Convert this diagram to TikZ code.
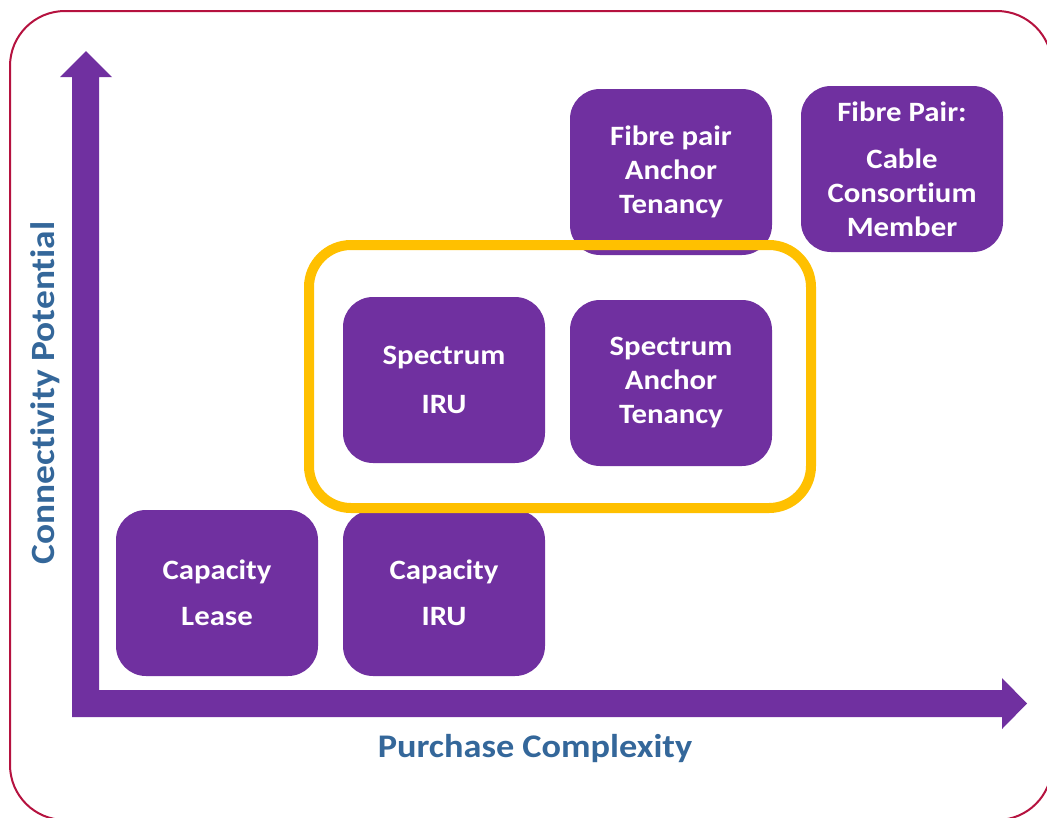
\documentclass[tikz,border=0pt]{standalone}
\usepackage{fontspec}
\setmainfont{Carlito}
\newfontfamily\widefont[FakeStretch=1.1, Ligatures=NoCommon]{Carlito}
\definecolor{boxpurple}{HTML}{7030A0}
\definecolor{ringyellow}{HTML}{FFC000}
\definecolor{labelblue}{HTML}{34679A}
\definecolor{framered}{HTML}{B5123F}
\tikzset{
  optionbox/.style={fill=boxpurple, rounded corners=30, minimum width=202,
    minimum height=166, inner sep=0, text=white, align=center,
    font=\widefont\bfseries\fontsize{28}{34}\selectfont},
  axislabel/.style={text=labelblue, inner sep=0,
    font=\widefont\bfseries\fontsize{33}{38}\selectfont},
  axisfill/.style={fill=boxpurple},
  ring/.style={draw=ringyellow, line width=10, rounded corners=42},
  outerframe/.style={draw=framered, line width=2, rounded corners=55}
}
\begin{document}
\begin{tikzpicture}[x=1pt,y=-1pt]
  \useasboundingbox (0,0) rectangle (1047,817);
  \clip (0,0) rectangle (1047,817);

  % outer rounded frame
  \draw[outerframe] (10,11) rectangle (1052,820);

  % L-shaped axes with arrow heads
  \coordinate (origin) at (72,717);
  \coordinate (ytip) at (86,51);
  \coordinate (xtip) at (1027,703.5);
  \fill[axisfill] (origin) -- (72,77) -- (60,77) -- (ytip) -- (112,77)
    -- (99,77) -- (99,690) -- (1002,690) -- (1002,678) -- (xtip)
    -- (1002,729) -- (1002,717) -- cycle;

  % axis titles
  \node[axislabel, anchor=base] (xlabel) at (535,757) {Purchase Complexity};
  \node[axislabel, anchor=base, rotate=90, font=\widefont\bfseries\fontsize{34}{40}\selectfont]
    (ylabel) at (54,393) {Connectivity Potential};

  % purchase options
  \node[optionbox] (caplease) at (217,593) {Capacity\\[12pt]Lease};
  \node[optionbox] (capiru) at (444,593) {Capacity\\[12pt]IRU};
  \node[optionbox] (speciru) at (444,380) {Spectrum\\[15pt]IRU};
  \node[optionbox] (specanchor) at (671,383) {Spectrum\\Anchor\\Tenancy};
  \node[optionbox] (fibreanchor) at (671,172) {Fibre pair\\Anchor\\Tenancy};
  \node[optionbox] (consortium) at (902,169) {Fibre Pair:\\[13pt]Cable\\Consortium\\Member};

  % highlight around the spectrum options
  \draw[ring] (309,245) rectangle (811,508);
\end{tikzpicture}
\end{document}
